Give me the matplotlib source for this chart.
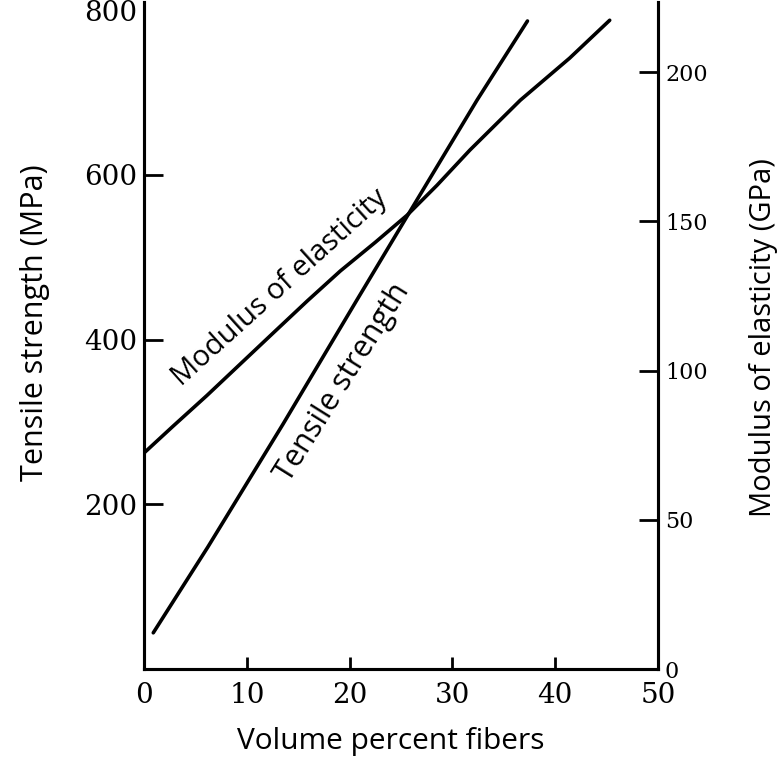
import matplotlib.pyplot as plt

# Tensile strength (MPa), left axis
ts_x = [0.9, 6.2, 13.5, 20.7, 25.6, 32.4, 37.3]
ts_y = [44, 148, 297, 448, 550, 691, 787]

# Modulus of elasticity (GPa), right axis
mod_x = [0.0, 2.8, 6.1, 9.3, 12.5, 15.9, 19.1, 22.5, 25.6, 28.5, 31.7, 36.6, 41.4, 45.3]
mod_y = [72.4, 81.3, 91.6, 102.0, 112.4, 123.4, 133.4, 143.0, 152.1, 162.1, 173.9, 190.6, 204.7, 217.4]

x_ticks = [0, 10, 20, 30, 40, 50]
left_ticks = [200, 400, 600, 800]
right_ticks = [0, 50, 100, 150, 200]

num_font = 'DejaVu Serif'
txt_font = 'Open Sans'

W, H = 784, 762
fig = plt.figure(figsize=(W / 100, H / 100), dpi=100)
ax = fig.add_axes([0.1837, 0.1220, 0.6556, 0.8753])
ax2 = ax.twinx()

ax.plot(ts_x, ts_y, color='black', lw=2.6, solid_capstyle='round')
ax2.plot(mod_x, mod_y, color='black', lw=2.6, solid_capstyle='round')

ax.set_xlim(0, 50)
ax.set_ylim(0, 810)
ax2.set_ylim(0, 223.5)

ax.set_xticks(x_ticks)
ax.set_xticklabels([str(v) for v in x_ticks], fontfamily=num_font, fontsize=20)
ax.set_yticks(left_ticks)
ax.set_yticklabels([str(v) for v in left_ticks], fontfamily=num_font, fontsize=20)
ax2.set_yticks(right_ticks)
ax2.set_yticklabels([str(v) for v in right_ticks], fontfamily=num_font, fontsize=16)

ax.tick_params(axis='x', direction='in', length=9, width=2, pad=9)
ax.tick_params(axis='y', direction='in', length=14, width=2, pad=5)
ax2.tick_params(axis='y', direction='in', length=14, width=2, pad=5)
ax.yaxis.get_major_ticks()[-1].tick1line.set_visible(False)

for a in (ax, ax2):
    a.spines['top'].set_visible(False)
    for s in ('left', 'right', 'bottom'):
        a.spines[s].set_linewidth(2.2)

# axis titles placed by pixel centre
fig.text(391 / W, 1 - 742 / H, 'Volume percent fibers', fontfamily=txt_font,
         fontsize=21.5, ha='center', va='center')
fig.text(35 / W, 1 - 323 / H, 'Tensile strength (MPa)', fontfamily=txt_font,
         fontsize=22, rotation=90, ha='center', va='center')
fig.text(764 / W, 1 - 338 / H, 'Modulus of elasticity (GPa)', fontfamily=txt_font,
         fontsize=21, rotation=90, ha='center', va='center')

ax.text(13.2, 463, 'Modulus of elasticity', fontfamily=txt_font, fontsize=21,
        rotation=42, ha='center', va='center', rotation_mode='anchor')
ax.text(19.3, 348, 'Tensile strength', fontfamily=txt_font, fontsize=22,
        rotation=58, ha='center', va='center', rotation_mode='anchor')

fig.savefig('out.png', dpi=100)
